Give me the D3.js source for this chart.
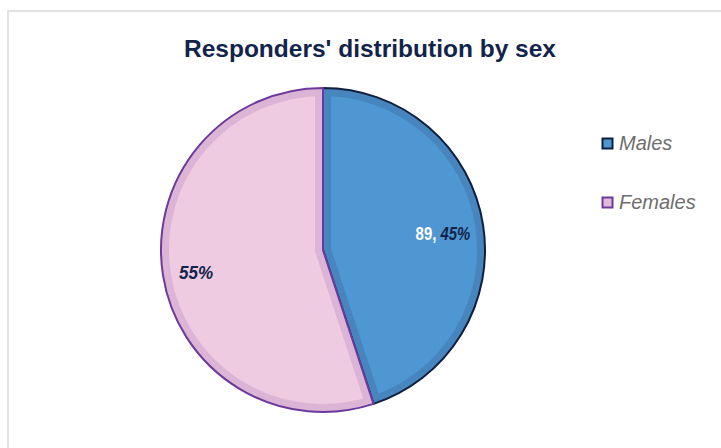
<!DOCTYPE html>
<html>
<head>
<meta charset="utf-8">
<style>
  body { margin: 0; background: #fff; }
  svg { display: block; font-family: "Liberation Sans", Arial, sans-serif; }
</style>
</head>
<body>
<svg width="721" height="448"></svg>
<script src="https://d3js.org/d3.v7.min.js"></script>
<script>
    var categories = ["Males", "Females"];
    var counts = [89, 109];
    var percents = ["45%", "55%"];

    var svg = d3.select("svg"),
        width = +svg.attr("width"),
        height = +svg.attr("height");

    // chart frame
    svg.append("rect")
        .attr("x", 8).attr("y", 11)
        .attr("width", width).attr("height", height)
        .attr("fill", "none")
        .attr("stroke", "#e1e1e1")
        .attr("stroke-width", 2);

    svg.append("text")
        .attr("x", 370)
        .attr("y", 57)
        .attr("text-anchor", "middle")
        .attr("fill", "#13244a")
        .attr("textLength", 372)
        .attr("lengthAdjust", "spacingAndGlyphs")
        .style("font-size", "24px")
        .style("font-weight", "bold")
        .text("Responders' distribution by sex");

    var fillInner = d3.scaleOrdinal().domain(categories).range(["#4f97d2", "#eecbe1"]);
    var fillBand = d3.scaleOrdinal().domain(categories).range(["#4785be", "#dcb4d5"]);
    var edge = d3.scaleOrdinal().domain(categories).range(["#0f1f3d", "#6b3a9c"]);

    var cx = 323, cy = 250, r = 162;

    var pie = d3.pie().sort(null).value(function (d) { return d.value; });
    var arc = d3.arc().innerRadius(0).outerRadius(r);

    var data = categories.map(function (c, i) { return { name: c, value: counts[i], pct: percents[i] }; });
    var arcs = pie(data);

    var g = svg.append("g").attr("transform", "translate(" + cx + "," + cy + ")");

    var defs = svg.append("defs");
    defs.selectAll("clipPath")
        .data(arcs)
        .enter().append("clipPath")
        .attr("id", function (d, i) { return "clip" + i; })
        .append("path")
        .attr("d", arc);

    var slice = g.selectAll(".slice")
        .data(arcs)
        .enter().append("g")
        .attr("class", "slice");

    slice.append("path")
        .attr("d", arc)
        .attr("fill", function (d) { return fillInner(d.data.name); });

    // inset bevel band
    slice.append("path")
        .attr("d", arc)
        .attr("fill", "none")
        .attr("clip-path", function (d, i) { return "url(#clip" + i + ")"; })
        .attr("stroke", function (d) { return fillBand(d.data.name); })
        .attr("stroke-width", 16)
        .attr("stroke-linejoin", "round");

    slice.append("path")
        .attr("d", arc)
        .attr("fill", "none")
        .attr("stroke", function (d) { return edge(d.data.name); })
        .attr("stroke-width", 2);

    // labels
    var lab0 = svg.append("text")
        .attr("transform", "translate(443,240) scale(0.83,1)")
        .attr("text-anchor", "middle")
        .style("font-size", "18px")
        .style("font-weight", "bold");
    lab0.append("tspan").attr("fill", "#ffffff").text(counts[0] + ", ");
    lab0.append("tspan").attr("fill", "#13244a").style("font-style", "italic").text(percents[0]);

    svg.append("text")
        .attr("transform", "translate(196,279) scale(0.95,1)")
        .attr("text-anchor", "middle")
        .attr("fill", "#13244a")
        .style("font-size", "18px")
        .style("font-weight", "bold")
        .style("font-style", "italic")
        .text(percents[1]);

    // legend
    var legend = svg.selectAll(".legend")
        .data(categories)
        .enter().append("g")
        .attr("class", "legend")
        .attr("transform", function (d, i) { return "translate(602," + (138 + i * 59) + ")"; });

    legend.append("rect")
        .attr("x", 0.5).attr("y", 0.5)
        .attr("width", 10).attr("height", 10)
        .attr("fill", function (d, i) { return i === 1 ? "#e3b9da" : fillInner(d); })
        .attr("stroke", function (d) { return edge(d); })
        .attr("stroke-width", 2);

    legend.append("text")
        .attr("x", 17).attr("y", 12)
        .attr("fill", "#6e6e6e")
        .style("font-size", "20px")
        .style("font-style", "italic")
        .text(function (d) { return d; });
</script>
</body>
</html>
